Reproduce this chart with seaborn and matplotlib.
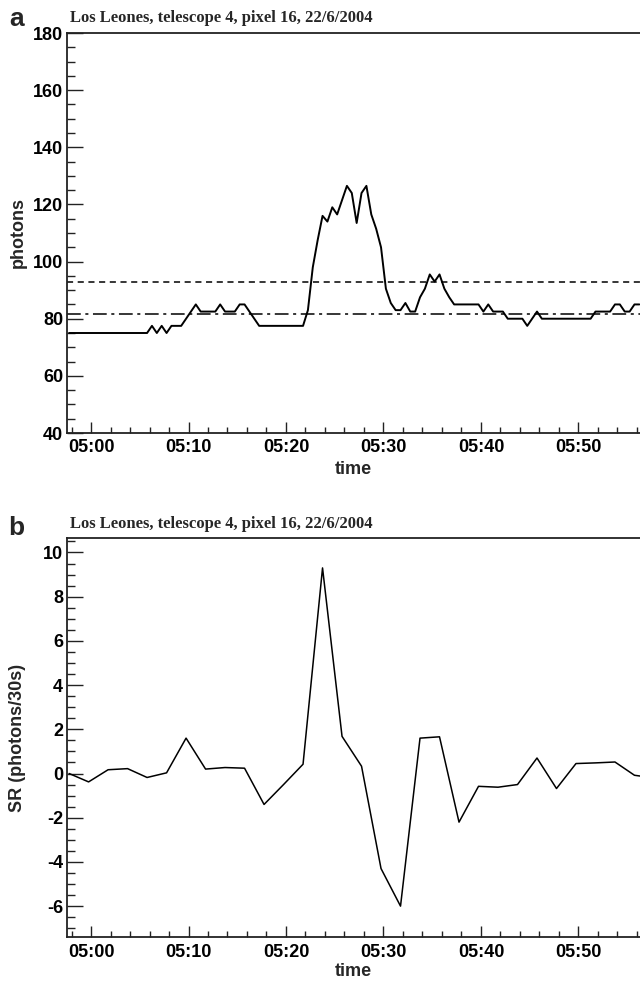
import matplotlib
matplotlib.use("Agg")
import matplotlib.pyplot as plt
import matplotlib.dates as mdates
from matplotlib.ticker import MultipleLocator
import seaborn as sns
import pandas as pd

sns.set_style("ticks")
plt.rcParams["font.family"] = ["Liberation Sans", "DejaVu Sans"]
plt.rcParams["font.weight"] = "bold"
plt.rcParams["axes.unicode_minus"] = False

title_text = "Los Leones, telescope 4, pixel 16, 22/6/2004"

# photon counts, 30 s bins starting 04:57:45
photons = [
    75, 75, 75, 75, 75, 75, 75, 75, 75, 75, 75, 75, 75, 75, 75, 75, 75,
    77.5, 75, 77.5, 75, 77.5, 77.5, 77.5, 80, 82.5, 85, 82.5, 82.5, 82.5, 82.5,
    85, 82.5, 82.5, 82.5, 85, 85, 82.5, 80, 77.5,
    77.5, 77.5, 77.5, 77.5, 77.5, 77.5, 77.5, 77.5, 77.5,
    83, 98, 107.5, 116, 114, 119, 116.5, 121.5, 126.5, 124, 113.5, 124, 126.5,
    116.5, 111.5, 105, 90.5, 85.5, 83, 83, 85.5, 82.5, 82.5, 87.5, 90.5, 95.5,
    93, 95.5, 90.5, 87.5, 85,
    85, 85, 85, 85, 85,
    82.5, 85, 82.5, 82.5, 82.5, 80, 80, 80, 80, 77.5, 80, 82.5,
    80, 80, 80, 80, 80, 80, 80, 80, 80, 80, 80,
    82.5, 82.5, 82.5, 82.5, 85, 85, 82.5, 82.5, 85, 85,
]
photon_start = "2004-06-22 04:57:45"
threshold_upper = 93.0
threshold_lower = 81.7

# signal rate, 2 min steps starting 04:57:45
sr_values = [
    0.0, -0.38, 0.17, 0.22, -0.18, 0.03, 1.6, 0.2, 0.27, 0.24, -1.4, -0.5,
    0.42, 9.3, 1.68, 0.33, -4.3, -6.0, 1.6, 1.66, -2.2, -0.58, -0.62, -0.5,
    0.7, -0.68, 0.45, 0.48, 0.52, -0.08, -0.2,
]
sr_start = "2004-06-22 04:57:45"

df_a = pd.DataFrame({
    "time": pd.date_range(photon_start, periods=len(photons), freq="30s"),
    "photons": photons,
})
df_b = pd.DataFrame({
    "time": pd.date_range(sr_start, periods=len(sr_values), freq="2min"),
    "sr": sr_values,
})

W, H = 640, 985
fig = plt.figure(figsize=(W / 100, H / 100), dpi=100)


def px_box(left, top, right, bottom):
    return [left / W, 1 - bottom / H, (right - left) / W, (bottom - top) / H]


ax_a = fig.add_axes(px_box(67.3, 33, 640, 433))
ax_b = fig.add_axes(px_box(67.3, 538.3, 640, 937.3))

sns.lineplot(data=df_a, x="time", y="photons", ax=ax_a, color="black", lw=1.4)
ax_a.axhline(threshold_upper, color="black", lw=1.1, ls=(0, (4, 3)))
ax_a.axhline(threshold_lower, color="black", lw=1.1, ls=(0, (9, 3, 2, 3)))
sns.lineplot(data=df_b, x="time", y="sr", ax=ax_b, color="black", lw=1.1)

t_left = pd.Timestamp("2004-06-22 04:57:34")
t_right = pd.Timestamp("2004-06-22 05:56:19")

for ax in (ax_a, ax_b):
    ax.set_xlim(t_left, t_right)
    ax.xaxis.set_major_locator(mdates.MinuteLocator(byminute=range(0, 60, 10)))
    ax.xaxis.set_minor_locator(mdates.MinuteLocator(byminute=range(0, 60, 2)))
    ax.xaxis.set_major_formatter(mdates.DateFormatter("%H:%M"))
    ax.set_xlabel("")
    ax.set_ylabel("")
    ax.spines["right"].set_visible(False)
    for s in ("left", "bottom", "top"):
        ax.spines[s].set_linewidth(1.3)
        ax.spines[s].set_color("#222222")
    ax.tick_params(axis="both", which="both", direction="in", width=1.0,
                   colors="#222222", labelcolor="black", labelsize=13,
                   top=False, right=False)
    ax.tick_params(axis="y", which="major", length=11.5, pad=3)
    ax.tick_params(axis="y", which="minor", length=5.8)
    ax.tick_params(axis="x", which="major", length=8, pad=4.5)
    ax.tick_params(axis="x", which="minor", length=4.3)

ax_a.set_ylim(40, 180)
ax_a.yaxis.set_major_locator(MultipleLocator(20))
ax_a.yaxis.set_minor_locator(MultipleLocator(5))

ax_b.set_ylim(-7.41, 10.64)
ax_b.yaxis.set_major_locator(MultipleLocator(2))
ax_b.yaxis.set_minor_locator(MultipleLocator(0.5))

serif = ["Liberation Serif", "DejaVu Serif"]
fig.text(70 / W, 1 - 22.5 / H, title_text, family=serif, weight="bold",
         fontsize=12, ha="left", va="baseline")
fig.text(70 / W, 1 - 527.7 / H, title_text, family=serif, weight="bold",
         fontsize=12, ha="left", va="baseline")

fig.text(9 / W, 1 - 26 / H, "a", fontsize=19, weight="bold", ha="left", va="baseline")
fig.text(8 / W, 1 - 535 / H, "b", fontsize=19, weight="bold", ha="left", va="baseline")

fig.text(18 / W, 1 - 232 / H, "photons", rotation=90, fontsize=13,
         weight="bold", ha="center", va="center")
fig.text(18 / W, 1 - 738 / H, "SR (photons/30s)", rotation=90, fontsize=13,
         weight="bold", ha="center", va="center")
fig.text(353 / W, 1 - 469 / H, "time", fontsize=13, weight="bold",
         ha="center", va="center")
fig.text(353 / W, 1 - 972 / H, "time", fontsize=13, weight="bold",
         ha="center", va="center")

fig.savefig("out.png", dpi=100)
